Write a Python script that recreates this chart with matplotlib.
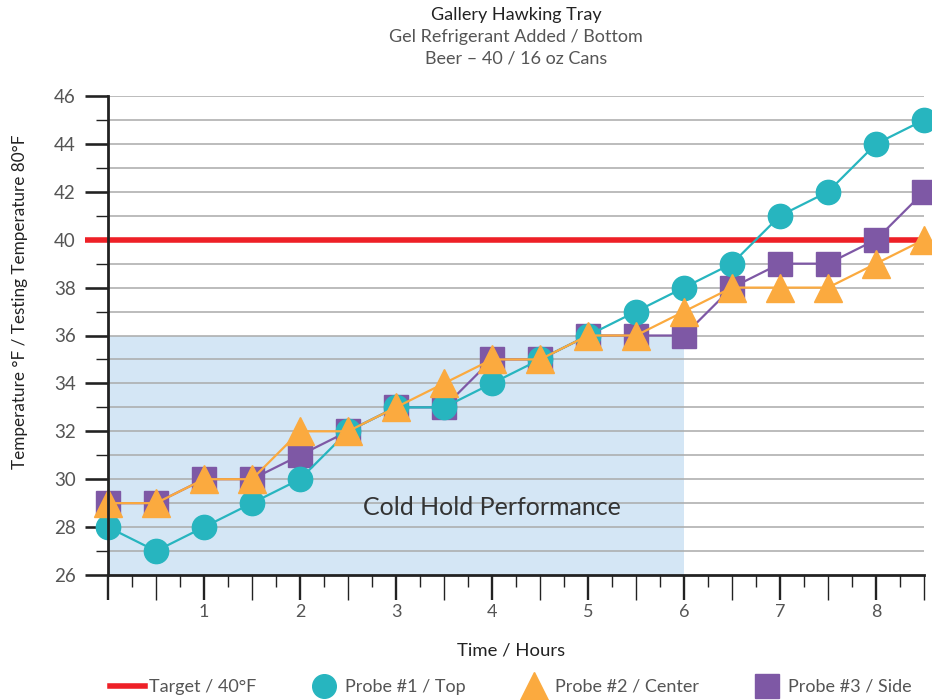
import matplotlib
matplotlib.use("Agg")
import matplotlib.pyplot as plt
from matplotlib.lines import Line2D
import numpy as np

hours = [0, 0.5, 1, 1.5, 2, 2.5, 3, 3.5, 4, 4.5, 5, 5.5, 6, 6.5, 7, 7.5, 8, 8.5]
probe1_top = [28, 27, 28, 29, 30, 32, 33, 33, 34, 35, 36, 37, 38, 39, 41, 42, 44, 45]
probe2_center = [29, 29, 30, 30, 32, 32, 33, 34, 35, 35, 36, 36, 37, 38, 38, 38, 39, 40]
probe3_side = [29, 29, 30, 30, 31, 32, 33, 33, 35, 35, 36, 36, 36, 38, 39, 39, 40, 42]
target = 40
cold_hold_x = (0, 6)
cold_hold_y = (26, 36)
x_tick_labels = ["", "1", "2", "3", "4", "5", "6", "7", "8"]
y_tick_labels = ["26", "28", "30", "32", "34", "36", "38", "40", "42", "44", "46"]

TEAL = "#27b5bf"
ORANGE = "#fbaa3f"
PURPLE = "#7e58a5"
RED = "#ee2027"
SHADE = "#d4e6f5"
GRID = "#aaaaaa"
TXT = "#555555"
DARK = "#222222"

plt.rcParams['font.family'] = ['Lato', 'DejaVu Sans']

PX = 72 / 100.0  # points per pixel

fig = plt.figure(figsize=(9.32, 7.0), dpi=100)
ax = fig.add_axes([108/932, 1-575/700, (924-108)/932, (575-96)/700])

ax.set_xlim(0, 8.5)
ax.set_ylim(26, 46)

# shaded cold-hold region
ax.fill_between(cold_hold_x, cold_hold_y[0], cold_hold_y[1], color=SHADE, zorder=0, lw=0)

# gridlines every degree
for v in range(27, 47):
    ax.axhline(v, color=GRID, lw=1.1, zorder=1)

# target line extends left over tick area
ax.plot([-0.24, 8.5], [target, target], color=RED, lw=4, zorder=2, clip_on=False,
        solid_capstyle='butt')

ax.plot(hours, probe3_side, color=PURPLE, lw=1.6, marker='s', ms=17, zorder=3, clip_on=False)
ax.plot(hours, probe1_top, color=TEAL, lw=1.6, marker='o', ms=17.5, zorder=4, clip_on=False)
ax.plot(hours, probe2_center, color=ORANGE, lw=1.6, marker='^', ms=20, zorder=5, clip_on=False)

# y ticks
ax.set_yticks(np.arange(26, 47, 2))
ax.set_yticklabels(y_tick_labels)
ax.set_yticks(np.arange(27, 46, 2), minor=True)
ax.tick_params(axis='y', which='major', length=23*PX, width=2.2*PX*1.0+0.3, color=DARK,
               labelsize=13.5, labelcolor=TXT, pad=9*PX)
ax.tick_params(axis='y', which='minor', length=12*PX, width=1.0, color=DARK)

# x ticks: integers bold long, halves thin long, quarters short (on twin axis)
ax.set_xticks(np.arange(0, 9, 1))
ax.set_xticklabels(x_tick_labels)
ax.set_xticks(np.arange(0.5, 8.6, 1), minor=True)
ax.tick_params(axis='x', which='major', length=25*PX, width=1.7, color=DARK, labelsize=13,
               labelcolor=TXT, pad=3)
ax.tick_params(axis='x', which='minor', length=25*PX, width=1.0, color=DARK)

ax2 = ax.twiny()
ax2.set_xlim(0, 8.5)
ax2.xaxis.set_ticks_position('bottom')
ax2.set_xticks(np.arange(0.25, 8.5, 0.5))
ax2.tick_params(axis='x', which='major', length=12*PX, width=1.0, color=DARK,
                labelbottom=False, labeltop=False, top=False)
for s in ax2.spines.values():
    s.set_visible(False)

for s in ['top', 'right']:
    ax.spines[s].set_visible(False)
for s in ['left', 'bottom']:
    ax.spines[s].set_linewidth(2.0)
    ax.spines[s].set_color(DARK)
    ax.spines[s].set_zorder(6)

ax.text(4.0, 28.8, "Cold Hold Performance", fontsize=18, color="#333333",
        ha='center', va='center', zorder=6)

# titles
fig.text(516/932, 1-15/700, "Gallery Hawking Tray", ha='center', va='center',
         fontsize=13, color=DARK)
fig.text(516/932, 1-37/700, "Gel Refrigerant Added / Bottom", ha='center', va='center',
         fontsize=13, color=TXT)
fig.text(516/932, 1-59/700, "Beer \u2013 40 / 16 oz Cans", ha='center', va='center',
         fontsize=13, color=TXT)

fig.text(511/932, 1-650/700, "Time / Hours", ha='center', va='center', fontsize=13.3, color=DARK)
fig.text(20/932, 1-302/700, "Temperature °F / Testing Temperature 80°F", ha='center',
         va='center', rotation=90, fontsize=12.3, color=DARK)

handles = [
    Line2D([], [], color=RED, lw=4),
    Line2D([], [], color=TEAL, lw=0, marker='o', ms=17),
    Line2D([], [], color=ORANGE, lw=0, marker='^', ms=20),
    Line2D([], [], color=PURPLE, lw=0, marker='s', ms=17),
]
labels = ["Target / 40°F", "Probe #1 / Top", "Probe #2 / Center", "Probe #3 / Side"]
fig.legend(handles, labels, loc='center', bbox_to_anchor=(511/932, 1-687/700), ncol=4,
           frameon=False, fontsize=13, handlelength=1.94, handletextpad=0.2,
           columnspacing=2.8, labelcolor=TXT, borderaxespad=0, borderpad=0)

fig.savefig("out.png", dpi=100)
